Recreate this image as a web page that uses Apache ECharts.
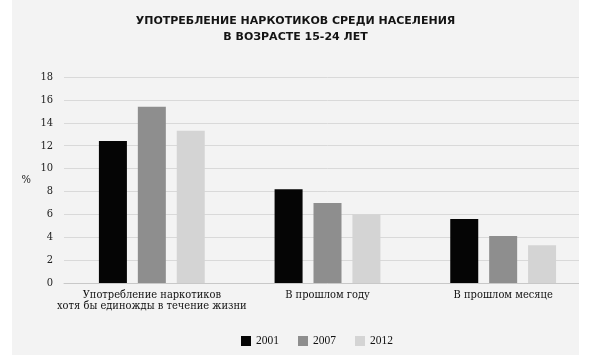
<!DOCTYPE html>
<html><head><meta charset="utf-8">
<script src="https://cdn.jsdelivr.net/npm/echarts@6/dist/echarts.min.js"></script>
<style>html,body{margin:0;padding:0;background:#fff}#c{width:591px;height:355px}</style>
</head><body><div id="c"></div>
<script>
const titleText = 'УПОТРЕБЛЕНИЕ НАРКОТИКОВ СРЕДИ НАСЕЛЕНИЯ\nВ ВОЗРАСТЕ 15-24 ЛЕТ';
const categories = ['Употребление наркотиков\nхотя бы единожды в течение жизни', 'В прошлом году', 'В прошлом месяце'];
const seriesNames = ['2001', '2007', '2012'];
const values2001 = [12.4, 8.2, 5.6];
const values2007 = [15.4, 7.0, 4.1];
const values2012 = [13.3, 6.0, 3.3];
const colors = ['#050505', '#8e8e8e', '#d4d4d4'];
const yTicks = {min: 0, max: 18, interval: 2};

const chart = echarts.init(document.getElementById('c'), null, {renderer: 'canvas'});
const serif = '"DejaVu Serif Condensed", "DejaVu Serif", serif';
const dataSets = [values2001, values2007, values2012];
chart.setOption({
  backgroundColor: '#ffffff',
  animation: false,
  graphic: [
    {type: 'rect', z: -100, shape: {x: 12, y: 0, width: 567, height: 355}, style: {fill: '#f3f3f3'}, silent: true},
    {type: 'rect', z: 100, shape: {x: 579, y: 0, width: 12, height: 355}, style: {fill: '#ffffff'}, silent: true}
  ],
  title: {
    text: titleText, left: 'center', top: 8,
    textStyle: {fontFamily: 'DejaVu Sans', fontWeight: 'bold', fontSize: 11, color: '#141414', lineHeight: 16}
  },
  legend: {
    data: seriesNames, left: 236, top: 330, itemWidth: 10, itemHeight: 10, itemGap: 19,
    icon: 'rect',
    textStyle: {fontFamily: '"Liberation Serif", serif', fontSize: 11.5, color: '#111'}
  },
  grid: {left: 64, right: 0, top: 77, bottom: 72, containLabel: false},
  xAxis: {
    type: 'category', data: categories,
    axisLine: {lineStyle: {color: '#c8c8c8'}},
    axisTick: {show: false},
    axisLabel: {interval: 0, fontFamily: serif, fontSize: 11, color: '#111', lineHeight: 11, margin: 7}
  },
  yAxis: {
    type: 'value', min: yTicks.min, max: yTicks.max, interval: yTicks.interval,
    name: '%', nameLocation: 'middle', nameRotate: 0, nameGap: 33,
    nameTextStyle: {fontFamily: serif, fontSize: 11, color: '#222'},
    axisLine: {show: false}, axisTick: {show: false},
    axisLabel: {fontFamily: serif, fontSize: 11, color: '#222', margin: 11},
    splitLine: {lineStyle: {color: '#d9d9d9'}}
  },
  series: seriesNames.map((n, i) => ({
    name: n, type: 'bar', data: dataSets[i], barWidth: 28, barGap: '39%',
    itemStyle: {color: colors[i]}
  }))
});
</script></body></html>
